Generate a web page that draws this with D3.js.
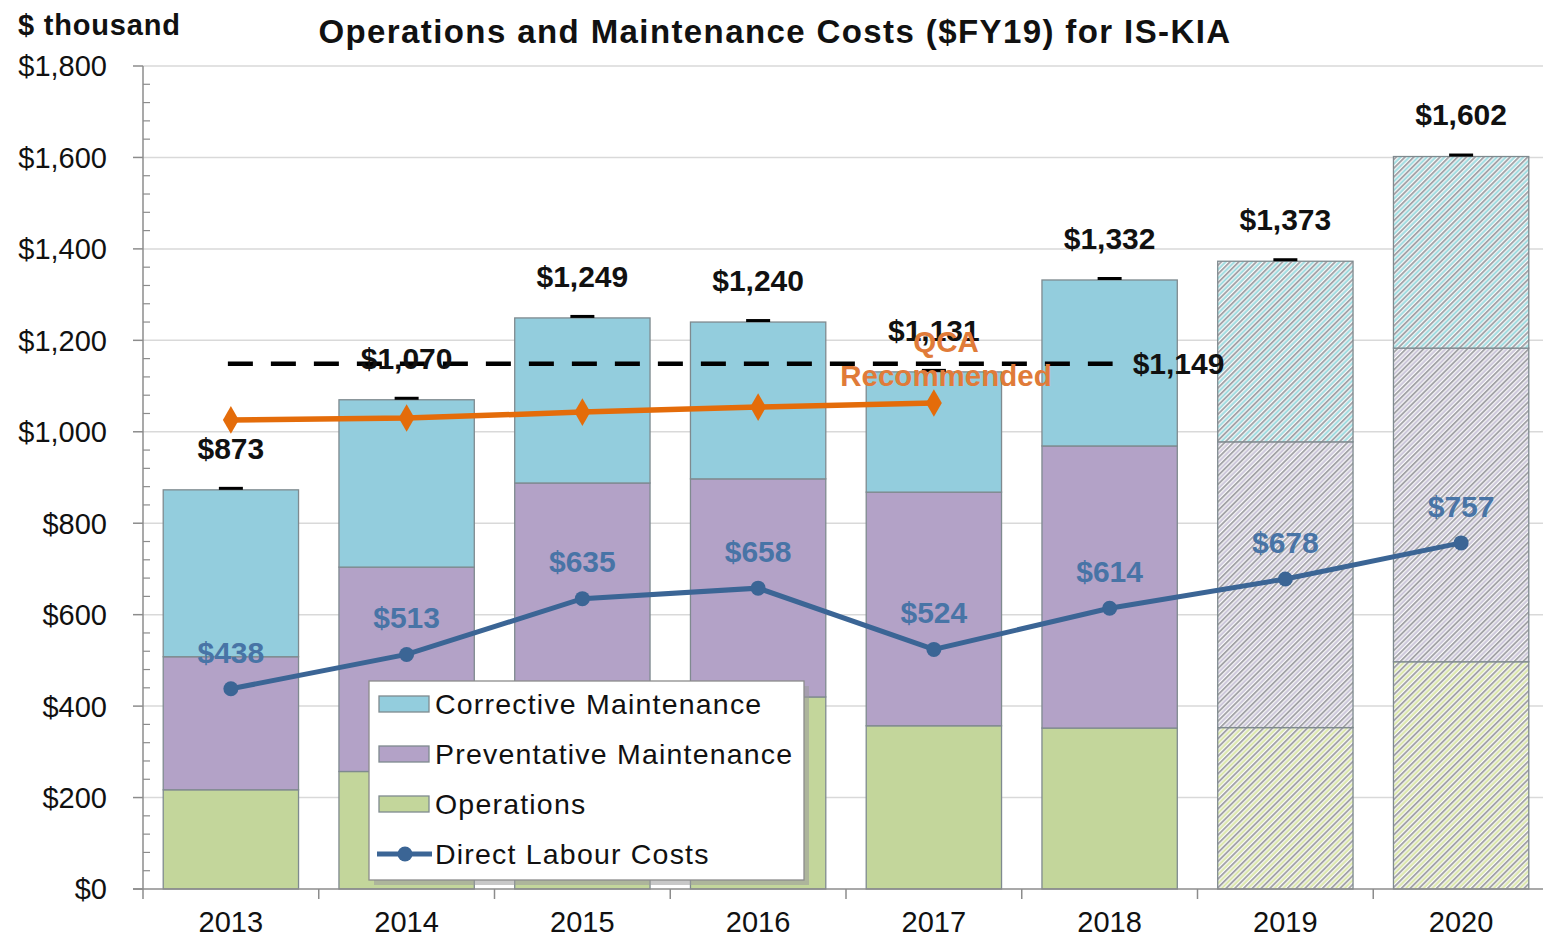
<!DOCTYPE html>
<html>
<head>
<meta charset="utf-8">
<script src="https://cdn.jsdelivr.net/npm/d3@7"></script>
<style>
  body { margin: 0; background: #fff; }
  svg { font-family: "Liberation Sans", Arial, sans-serif; }
</style>
</head>
<body>
<div id="app"></div>
<script>
const YEARS = ['2013', '2014', '2015', '2016', '2017', '2018', '2019', '2020'];
const PROJECTED = ['2019', '2020'];
const OPERATIONS = [217, 257, 410, 420, 357, 352, 353, 497];
const PREVENTATIVE = [291, 447, 478, 477, 511, 617, 625, 686];
const CORRECTIVE = [365, 366, 361, 343, 263, 363, 395, 419];
const LABOUR = [438, 513, 635, 658, 524, 614, 678, 757];
const QCA_YEARS = ['2013', '2014', '2015', '2016', '2017'];
const QCA = [1026, 1030, 1043, 1054, 1063];
const TARGET = 1149;
const TARGET_YEARS = ['2013', '2018'];
const Y_TICKS = [0, 200, 400, 600, 800, 1000, 1200, 1400, 1600, 1800];

const SERIES = [
  {key: 'ops', name: 'Operations', values: OPERATIONS, color: '#c3d69b', stripe: '#d9e6a4'},
  {key: 'pm', name: 'Preventative Maintenance', values: PREVENTATIVE, color: '#b3a2c7', stripe: '#c9c3d8'},
  {key: 'cm', name: 'Corrective Maintenance', values: CORRECTIVE, color: '#93cddd', stripe: '#98dadf'}
];

const W = 1543, H = 940;
const plot = {left: 143, right: 1549, top: 66, bottom: 889};

const svg = d3.select('#app').append('svg')
    .attr('width', W)
    .attr('height', H);

const x = d3.scaleBand()
    .domain(YEARS)
    .range([plot.left, plot.right])
    .paddingInner(0.23)
    .paddingOuter(0.115);

const y = d3.scaleLinear()
    .domain([0, 1800])
    .range([plot.bottom, plot.top]);

const fmt = d => '$' + d3.format(',')(d);
const cx = d => x(d) + x.bandwidth() / 2;

// hatch patterns for projected years
const defs = svg.append('defs');
SERIES.forEach(s => {
  const p = defs.append('pattern')
      .attr('id', 'hatch-' + s.key)
      .attr('patternUnits', 'userSpaceOnUse')
      .attr('width', 6.2)
      .attr('height', 6.2)
      .attr('patternTransform', 'rotate(45)');
  p.append('rect').attr('width', 6.2).attr('height', 6.2).attr('fill', '#fbfbfb');
  p.append('rect').attr('x', 0).attr('width', 1.9).attr('height', 6.2).attr('fill', '#a3a3a8');
  p.append('rect').attr('x', 3.1).attr('width', 1.9).attr('height', 6.2).attr('fill', s.stripe);
});

// gridlines
svg.append('g')
    .selectAll('line')
    .data(Y_TICKS.filter(d => d > 0))
  .enter().append('line')
    .attr('x1', plot.left)
    .attr('x2', W)
    .attr('y1', d => y(d))
    .attr('y2', d => y(d))
    .attr('stroke', '#d9d9d9')
    .attr('stroke-width', 1.5);

// stacked bars
const rows = YEARS.map((yr, i) => ({year: yr, ops: OPERATIONS[i], pm: PREVENTATIVE[i], cm: CORRECTIVE[i]}));
const stack = d3.stack().keys(SERIES.map(s => s.key))(rows);

svg.append('g')
    .selectAll('g')
    .data(stack)
  .enter().append('g')
    .selectAll('rect')
    .data(d => d.map(v => Object.assign(v, {key: d.key})))
  .enter().append('rect')
    .attr('x', d => x(d.data.year))
    .attr('width', x.bandwidth())
    .attr('y', d => y(d[1]))
    .attr('height', d => y(d[0]) - y(d[1]))
    .attr('fill', d => {
      const s = SERIES.find(s => s.key === d.key);
      return PROJECTED.includes(d.data.year) ? `url(#hatch-${s.key})` : s.color;
    })
    .attr('stroke', '#7f8a8f')
    .attr('stroke-width', 1.3);

// totals: cap
const totals = rows.map(r => ({year: r.year, total: r.ops + r.pm + r.cm}));
svg.append('g')
    .selectAll('line')
    .data(totals)
  .enter().append('line')
    .attr('x1', d => cx(d.year) - 12)
    .attr('x2', d => cx(d.year) + 12)
    .attr('y1', d => y(d.total) - 1.5)
    .attr('y2', d => y(d.total) - 1.5)
    .attr('stroke', '#000')
    .attr('stroke-width', 3);

// axes
const yAxis = svg.append('g').attr('class', 'y axis');
yAxis.append('line')
    .attr('x1', plot.left).attr('x2', plot.left)
    .attr('y1', plot.top).attr('y2', plot.bottom)
    .attr('stroke', '#8c8c8c').attr('stroke-width', 1.5);
yAxis.selectAll('.major')
    .data(Y_TICKS)
  .enter().append('line')
    .attr('x1', plot.left - 10).attr('x2', plot.left)
    .attr('y1', d => y(d)).attr('y2', d => y(d))
    .attr('stroke', '#8c8c8c').attr('stroke-width', 1.5);
yAxis.selectAll('.minor')
    .data(d3.range(0, 1800, 40).filter(d => d % 200 !== 0))
  .enter().append('line')
    .attr('x1', plot.left).attr('x2', plot.left + 7)
    .attr('y1', d => y(d)).attr('y2', d => y(d))
    .attr('stroke', '#8c8c8c').attr('stroke-width', 1.2);
yAxis.selectAll('text')
    .data(Y_TICKS)
  .enter().append('text')
    .attr('x', 107)
    .attr('y', d => y(d))
    .attr('dy', '0.36em')
    .attr('text-anchor', 'end')
    .style('font-size', '29px')
    .attr('fill', '#111')
    .text(fmt);

const xAxis = svg.append('g').attr('class', 'x axis');
xAxis.append('line')
    .attr('x1', plot.left - 10).attr('x2', plot.right)
    .attr('y1', plot.bottom).attr('y2', plot.bottom)
    .attr('stroke', '#8c8c8c').attr('stroke-width', 1.5);
xAxis.selectAll('.tick')
    .data(YEARS)
  .enter().append('line')
    .attr('x1', d => x(d) - x.step() * x.paddingInner() / 2)
    .attr('x2', d => x(d) - x.step() * x.paddingInner() / 2)
    .attr('y1', plot.bottom).attr('y2', plot.bottom + 10)
    .attr('stroke', '#8c8c8c').attr('stroke-width', 1.5);
xAxis.selectAll('text')
    .data(YEARS)
  .enter().append('text')
    .attr('x', d => cx(d))
    .attr('y', 922)
    .attr('dy', '0.36em')
    .attr('text-anchor', 'middle')
    .style('font-size', '29px')
    .attr('fill', '#111')
    .text(d => d);

// target dashed line
svg.append('line')
    .attr('x1', cx(TARGET_YEARS[0]) - 3)
    .attr('x2', cx(TARGET_YEARS[1]) + 3)
    .attr('y1', y(TARGET)).attr('y2', y(TARGET))
    .attr('stroke', '#000')
    .attr('stroke-width', 4.5)
    .attr('stroke-dasharray', '25,18');
svg.append('text')
    .attr('x', cx(TARGET_YEARS[1]) + 23)
    .attr('y', y(TARGET))
    .attr('dy', '0.36em')
    .style('font-size', '30px')
    .style('font-weight', 'bold')
    .attr('fill', '#111')
    .text(fmt(TARGET));

// total labels
svg.append('g')
    .selectAll('text')
    .data(totals)
  .enter().append('text')
    .attr('x', d => cx(d.year))
    .attr('y', d => y(d.total) - 42)
    .attr('dy', '0.36em')
    .attr('text-anchor', 'middle')
    .style('font-size', '30px')
    .style('font-weight', 'bold')
    .attr('fill', '#111')
    .text(d => fmt(d.total));

// QCA recommended line
const qcaData = QCA_YEARS.map((yr, i) => ({year: yr, v: QCA[i]}));
svg.append('path')
    .datum(qcaData)
    .attr('fill', 'none')
    .attr('stroke', '#e46c0a')
    .attr('stroke-width', 5.5)
    .attr('d', d3.line().x(d => cx(d.year)).y(d => y(d.v)));
svg.append('g')
    .selectAll('path')
    .data(qcaData)
  .enter().append('path')
    .attr('transform', d => `translate(${cx(d.year)},${y(d.v)})`)
    .attr('d', d3.symbol(d3.symbolDiamond, 220))
    .attr('fill', '#e46c0a');
svg.append('text')
    .attr('text-anchor', 'middle')
    .style('font-size', '29.5px')
    .style('font-weight', 'bold')
    .attr('fill', '#e07b39')
    .selectAll('tspan')
    .data(['QCA', 'Recommended'])
  .enter().append('tspan')
    .attr('x', 946)
    .attr('y', (d, i) => 352 + i * 34)
    .text(d => d);

// direct labour line
const labourData = YEARS.map((yr, i) => ({year: yr, v: LABOUR[i]}));
svg.append('path')
    .datum(labourData)
    .attr('fill', 'none')
    .attr('stroke', '#3b6595')
    .attr('stroke-width', 5)
    .attr('d', d3.line().x(d => cx(d.year)).y(d => y(d.v)));
svg.append('g')
    .selectAll('circle')
    .data(labourData)
  .enter().append('circle')
    .attr('cx', d => cx(d.year))
    .attr('cy', d => y(d.v))
    .attr('r', 7.5)
    .attr('fill', '#3b6595');
svg.append('g')
    .selectAll('text')
    .data(labourData)
  .enter().append('text')
    .attr('x', d => cx(d.year))
    .attr('y', d => y(d.v) - 37)
    .attr('dy', '0.36em')
    .attr('text-anchor', 'middle')
    .style('font-size', '30px')
    .style('font-weight', 'bold')
    .attr('fill', '#4874a6')
    .text(d => fmt(d.v));

// legend
const legend = svg.append('g').attr('transform', 'translate(369, 681)');
legend.append('rect')
    .attr('x', 5).attr('y', 5)
    .attr('width', 435).attr('height', 199)
    .attr('fill', '#9a9a9a')
    .attr('opacity', 0.55);
legend.append('rect')
    .attr('width', 435).attr('height', 199)
    .attr('fill', '#fff')
    .attr('stroke', '#8c8c8c')
    .attr('stroke-width', 1.3);
const items = [SERIES[2], SERIES[1], SERIES[0], {name: 'Direct Labour Costs', line: true}];
const item = legend.selectAll('.item')
    .data(items)
  .enter().append('g')
    .attr('class', 'item')
    .attr('transform', (d, i) => `translate(0, ${23 + i * 50})`);
item.filter(d => !d.line).append('rect')
    .attr('x', 10).attr('y', -8)
    .attr('width', 50).attr('height', 16)
    .attr('fill', d => d.color)
    .attr('stroke', '#7f8a8f')
    .attr('stroke-width', 1.3);
item.filter(d => d.line).append('line')
    .attr('x1', 8).attr('x2', 63)
    .attr('stroke', '#3b6595')
    .attr('stroke-width', 5);
item.filter(d => d.line).append('circle')
    .attr('cx', 36).attr('r', 7.5)
    .attr('fill', '#3b6595');
item.append('text')
    .attr('x', 66)
    .attr('dy', '0.36em')
    .style('font-size', '28.5px')
    .attr('letter-spacing', '1.2px')
    .attr('fill', '#111')
    .text(d => d.name);

// titles
svg.append('text')
    .attr('x', 775).attr('y', 31)
    .attr('dy', '0.36em')
    .attr('text-anchor', 'middle')
    .style('font-size', '33px')
    .style('font-weight', 'bold')
    .attr('letter-spacing', '1.4px')
    .attr('fill', '#111')
    .text('Operations and Maintenance Costs ($FY19) for IS-KIA');
svg.append('text')
    .attr('x', 18).attr('y', 25)
    .attr('dy', '0.36em')
    .style('font-size', '29px')
    .style('font-weight', 'bold')
    .attr('letter-spacing', '0.8px')
    .attr('fill', '#111')
    .text('$ thousand');
</script>
</body>
</html>
